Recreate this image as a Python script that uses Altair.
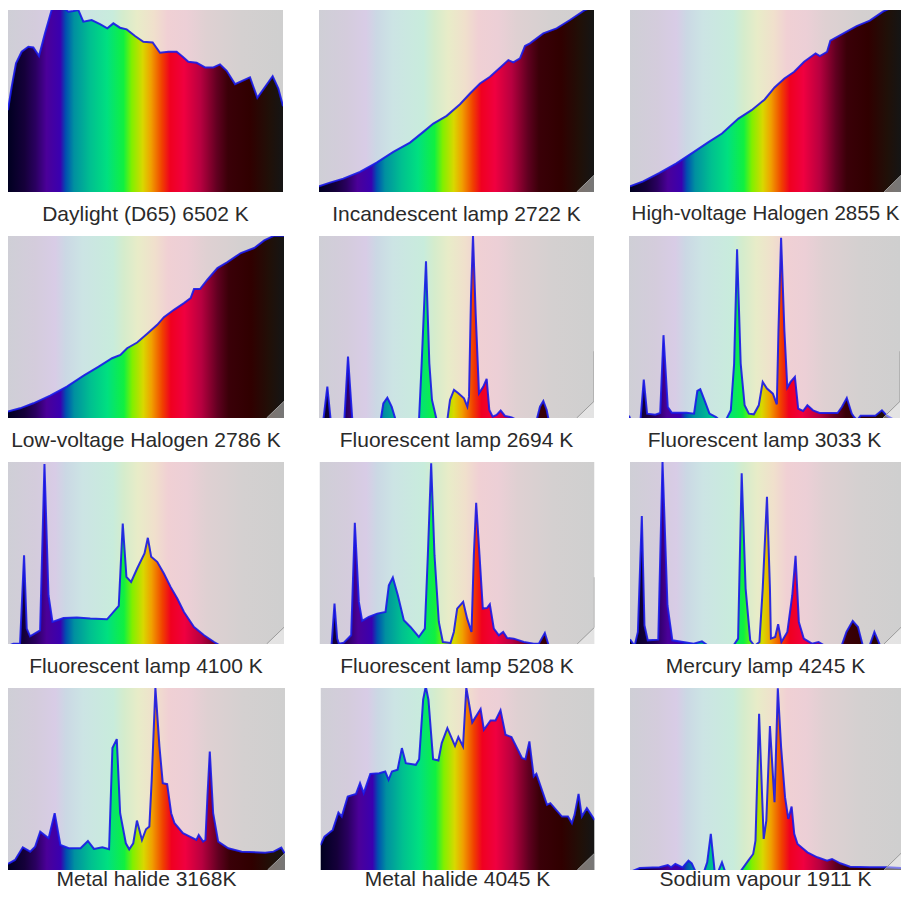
import altair as alt
import pandas as pd

NAMES = [
    "Daylight (D65) 6502 K", "Incandescent  lamp 2722 K", "High-voltage Halogen 2855 K",
    "Low-voltage Halogen 2786 K", "Fluorescent lamp  2694 K", "Fluorescent lamp 3033 K",
    "Fluorescent lamp 4100 K", "Fluorescent lamp 5208 K", "Mercury lamp 4245 K",
    "Metal halide 3168K", "Metal halide 4045 K", "Sodium vapour 1911 K",
]

X1 = [0,11,24,41,61,76,93,111,131,156,181,196,211,226,251,276,298,316,336,356,381,406,434,456,481,506,524,541,566,591,616,636,656,681,726,748,794,811,825]
Y1 = [245,315,385,420,435,433,407,475,545,560,540,542,545,510,515,503,490,505,492,487,467,450,448,417,420,420,405,390,387,373,373,382,363,323,343,282,347,310,257]
X2 = [0,33,73,123,173,223,273,313,343,383,423,453,483,513,543,568,583,603,618,633,673,713,753,798,825]
Y2 = [17,28,40,60,88,120,148,180,205,228,263,295,325,345,372,395,388,400,437,445,475,490,515,545,555]
X3 = [0,40,90,140,190,240,280,330,370,410,440,470,500,530,565,578,600,610,650,690,730,770,785,825]
Y3 = [17,32,57,85,117,150,175,220,245,277,313,340,360,390,415,407,420,453,475,497,513,540,547,553]
X4 = [0,36,76,126,176,226,271,311,336,356,386,416,446,466,496,526,546,556,574,596,626,656,696,736,766,796,825]
Y4 = [19,29,44,67,94,127,154,179,189,209,226,252,279,302,324,344,359,386,386,414,449,467,494,509,532,546,546]
X5 = [0,13,25,35,76,87,100,185,193,205,218,230,300,308,321,331,339,353,385,393,405,418,435,445,450,456,462,470,480,493,503,511,521,533,545,558,578,593,653,663,673,683,689,825]
Y5 = [-6,-6,94,-6,-6,184,-6,-6,44,61,34,-6,-6,164,469,164,54,-6,-6,54,84,74,59,34,64,364,546,314,74,94,117,24,4,9,22,6,2,-6,-6,34,51,24,-6,-6]
X6 = [0,5,35,45,55,80,95,105,118,130,175,198,208,217,230,245,265,275,295,310,320,329,340,352,365,380,395,407,420,438,450,455,463,473,482,492,505,515,530,543,560,580,610,635,648,663,678,685,695,705,720,735,750,770,785,808,825]
Y6 = [7,-6,-6,115,13,10,15,248,33,16,16,13,81,86,53,13,3,-6,-6,23,163,505,163,38,13,11,38,108,88,73,41,263,540,263,91,108,123,28,21,38,23,15,15,15,33,60,13,3,-6,7,7,7,7,23,7,-6,-6]
X7 = [0,16,36,48,56,66,96,109,121,133,166,206,246,296,331,343,354,368,386,408,418,428,446,466,486,506,526,556,586,616,636,825]
Y7 = [-6,1,1,266,46,23,41,539,146,66,78,79,76,74,114,361,201,186,226,271,318,261,246,211,171,136,96,51,26,6,-6,-6]
X8 = [0,36,45,53,58,73,95,106,118,128,148,173,198,208,220,235,253,273,298,316,325,335,345,358,370,393,403,413,431,443,456,463,470,480,490,503,511,523,538,551,563,583,613,643,658,676,688,825]
Y8 = [-6,-6,121,16,1,4,26,363,126,69,81,91,96,176,199,146,71,51,21,46,266,541,266,66,6,3,36,106,126,76,36,266,423,266,106,108,119,46,26,36,18,16,6,1,1,33,-6,-6]
X9 = [0,14,24,36,44,54,86,99,114,129,194,219,239,314,329,340,352,366,379,394,404,417,426,429,442,451,461,479,494,504,514,529,554,574,594,644,659,678,694,709,729,744,762,825]
Y9 = [14,-6,36,383,56,11,13,546,116,11,1,8,-6,-6,16,511,166,11,-6,6,166,441,166,16,21,59,6,36,146,264,66,16,1,6,-6,-6,36,69,51,-6,-6,36,-6,-6]
X10 = [0,21,44,66,81,96,121,139,156,181,216,238,256,281,301,311,324,334,351,361,373,384,399,411,421,428,439,451,461,474,486,496,521,561,568,581,588,594,601,611,626,656,696,766,791,814,825]
Y10 = [18,30,68,55,70,115,95,170,75,65,65,87,63,68,62,365,392,170,80,62,80,148,90,122,130,270,546,370,260,257,170,140,110,90,105,85,90,220,355,170,85,65,55,52,55,67,48]
X11 = [0,12,37,54,64,82,107,119,130,150,177,195,205,215,232,245,257,287,297,309,317,325,339,355,365,382,405,415,429,439,457,482,492,512,527,542,557,575,607,617,629,642,650,682,692,727,745,757,765,777,787,802,825]
Y11 = [75,100,120,172,160,220,228,260,230,288,290,295,270,295,300,365,320,315,332,510,550,510,332,328,380,425,372,398,370,546,442,482,420,448,448,478,405,398,335,332,385,280,288,195,200,160,160,140,165,228,160,185,150]
X12 = [0,30,90,115,125,138,160,178,188,200,225,235,246,258,268,280,290,335,360,375,382,393,407,415,426,440,450,460,472,482,492,500,510,540,570,600,615,640,670,730,785,825]
Y12 = [-6,6,8,15,8,18,8,28,20,-6,-6,23,108,-6,-6,23,-6,-6,28,48,88,468,93,148,431,203,544,368,218,153,190,108,78,53,38,28,33,20,10,8,8,6]

SERIES = [(X1,Y1),(X2,Y2),(X3,Y3),(X4,Y4),(X5,Y5),(X6,Y6),(X7,Y7),(X8,Y8),(X9,Y9),(X10,Y10),(X11,Y11),(X12,Y12)]

PALE = [(0,"#cfcfd6"),(0.10,"#d4ccdc"),(0.17,"#d8cce6"),(0.21,"#cbd8e4"),(0.27,"#cce4e4"),(0.38,"#c8ecdc"),
        (0.42,"#d5eccc"),(0.47,"#e8ecc8"),(0.53,"#f0e0cc"),(0.58,"#f0d0d4"),(0.65,"#eccfd6"),(0.72,"#dfd0d2"),(0.85,"#d4d0d0"),(1,"#cfcfcf")]
VIVID = [(0,"#000020"),(0.06,"#15003a"),(0.10,"#2a0060"),(0.14,"#4b0099"),(0.19,"#3a00b0"),(0.21,"#0050b0"),(0.24,"#0090a0"),
         (0.30,"#00c090"),(0.36,"#00e080"),(0.42,"#10f040"),(0.45,"#80f000"),(0.49,"#d8d800"),(0.52,"#f0a000"),(0.56,"#f04000"),
         (0.59,"#f00020"),(0.64,"#f00040"),(0.70,"#b80040"),(0.76,"#600020"),(0.80,"#3a0008"),(0.88,"#300000"),(0.95,"#201008"),(1,"#151515")]

CORNER_X = [773, 825]
CORNER_Y = [0, 50]
EDGE_X = [825, 825]
EDGE_Y = [50, 200]
FULL_X = [0, 825]
FULL_Y = [545, 545]

ROW_WIDTHS = [[275, 275, 271], [276, 275, 271], [276, 275, 271], [277, 274, 271]]
ROW_SPACING = [36, 35, 35.5, 35.5]

def grad(stops):
    return alt.Gradient(gradient="linear", x1=0, x2=1, y1=0, y2=0,
                        stops=[alt.GradientStop(offset=o, color=c) for o, c in stops])

X = alt.X("x:Q", scale=alt.Scale(domain=[0, 825], nice=False, zero=False), axis=None)
Y = alt.Y("y:Q", scale=alt.Scale(domain=[0, 545], nice=False, zero=False), axis=None)

def panel(i, width, offset):
    xs, ys = SERIES[i]
    d = pd.DataFrame({"x": xs, "y": ys})
    base = pd.DataFrame({"x": FULL_X, "y": FULL_Y})
    corner = pd.DataFrame({"x": CORNER_X, "y": CORNER_Y})
    edge = pd.DataFrame({"x": EDGE_X, "y": EDGE_Y})
    layers = [
        alt.Chart(base).mark_area(color=grad(PALE), clip=True).encode(x=X, y=Y),
        alt.Chart(d).mark_area(color=grad(VIVID), clip=True, interpolate="linear").encode(x=X, y=Y),
        alt.Chart(d).mark_line(color="#1818e8", strokeWidth=2, clip=True, opacity=0.9).encode(x=X, y=Y),
    ]
    if i > 0:
        layers.append(alt.Chart(corner).mark_area(color="#ffffff", opacity=0.42, clip=True).encode(x=X, y=Y))
        layers.append(alt.Chart(corner).mark_line(color="#9a9a9a", strokeWidth=1, clip=True).encode(x=X, y=Y))
    if i in (4, 5, 7):
        layers.append(alt.Chart(edge).mark_line(color="#aaaaaa", strokeWidth=1.5, clip=True).encode(x=X, y=Y))
    size = 20.5 if i == 2 else 21
    return alt.layer(*layers).properties(
        width=width, height=182,
        title=alt.TitleParams(NAMES[i], orient="bottom", anchor="middle", font="Liberation Sans", fontSize=size,
                              fontWeight="normal", color="#2a2a2a", offset=offset + (21 - size) / 2),
    )

rows = []
for r in range(4):
    off = 12 if r < 3 else -1
    rows.append(alt.hconcat(*[panel(r * 3 + c, ROW_WIDTHS[r][c], off) for c in range(3)], spacing=ROW_SPACING[r]))
chart = alt.vconcat(*rows, spacing=11).properties(
    padding={"left": 0, "top": 2, "right": 0, "bottom": 0}
).configure_view(stroke=None)
chart.save("out.html", embed_options={"renderer": "svg", "actions": False})
